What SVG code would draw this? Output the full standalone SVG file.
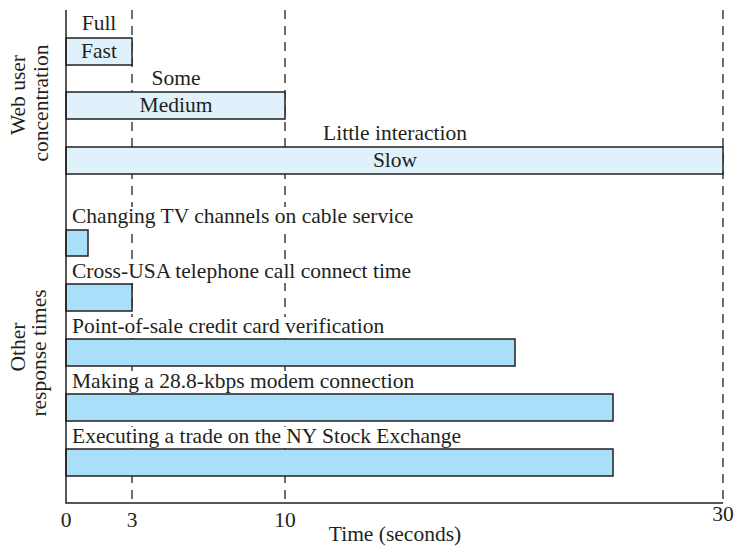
<svg xmlns="http://www.w3.org/2000/svg" width="735" height="546" viewBox="0 0 735 546">
  <style>
    text { font-family: "Liberation Serif", "Times New Roman", serif; font-size: 21.5px; fill: #231f20; }
    .mid { text-anchor: middle; }
    .axis { stroke: #231f20; stroke-width: 1.5; fill: none; }
    .grid { stroke: #231f20; stroke-width: 1.3; stroke-dasharray: 9 7; fill: none; }
    .web { fill: #dff2fb; stroke: #231f20; stroke-width: 1.5; }
    .other { fill: #a9dff8; stroke: #231f20; stroke-width: 1.5; }
    .knock { fill: #ffffff; }
  </style>

  <!-- dashed reference lines at 3, 10 and 30 seconds -->
  <g id="gridlines">
    <line class="grid" x1="132" y1="10" x2="132" y2="503"/>
    <line class="grid" x1="285" y1="10" x2="285" y2="503"/>
    <line class="grid" x1="723" y1="10" x2="723" y2="503"/>
  </g>

  <!-- web user concentration bars -->
  <g id="fast">
    <text class="mid" x="99" y="30">Full</text>
    <rect class="web" x="66" y="38" width="66" height="27"/>
    <text class="mid" x="99" y="58">Fast</text>
  </g>
  <g id="medium">
    <text class="mid" x="176" y="85">Some</text>
    <rect class="web" x="66" y="92" width="219" height="27"/>
    <text class="mid" x="176" y="112">Medium</text>
  </g>
  <g id="slow">
    <text class="mid" x="395" y="140">Little interaction</text>
    <rect class="web" x="66" y="147" width="657" height="27"/>
    <text class="mid" x="395" y="167">Slow</text>
  </g>

  <!-- other response times (labels sit on a white band over the grid) -->
  <g id="tv">
    <rect class="knock" x="68" y="207" width="350" height="21"/>
    <text x="72" y="223">Changing TV channels on cable service</text>
    <rect class="other" x="66" y="230" width="22" height="26"/>
  </g>
  <g id="phone">
    <rect class="knock" x="68" y="262" width="345" height="21"/>
    <text x="72" y="278">Cross-USA telephone call connect time</text>
    <rect class="other" x="66" y="284" width="66" height="27"/>
  </g>
  <g id="pos">
    <rect class="knock" x="68" y="317" width="324" height="21"/>
    <text x="72" y="333">Point-of-sale credit card verification</text>
    <rect class="other" x="66" y="339" width="449" height="27"/>
  </g>
  <g id="modem">
    <rect class="knock" x="68" y="372" width="322" height="21"/>
    <text x="72" y="388">Making a 28.8-kbps modem connection</text>
    <rect class="other" x="66" y="394" width="547" height="27"/>
  </g>
  <g id="nyse">
    <rect class="knock" x="68" y="427" width="370" height="21"/>
    <text x="72" y="443">Executing a trade on the NY Stock Exchange</text>
    <rect class="other" x="66" y="449" width="547" height="27"/>
  </g>

  <!-- axes -->
  <g id="axes">
    <polyline class="axis" points="66,10 66,503 723,503"/>
    <text class="mid" x="66" y="527">0</text>
    <text class="mid" x="132" y="527">3</text>
    <text class="mid" x="285" y="527">10</text>
    <text class="mid" x="723" y="521">30</text>
    <text class="mid" x="395" y="541">Time (seconds)</text>
  </g>

  <!-- group labels -->
  <g id="group-web">
    <text class="mid" transform="translate(25,95) rotate(-90)">Web user</text>
    <text class="mid" transform="translate(48,103) rotate(-90)">concentration</text>
  </g>
  <g id="group-other">
    <text class="mid" transform="translate(25,347) rotate(-90)">Other</text>
    <text class="mid" transform="translate(46,353) rotate(-90)">response times</text>
  </g>
</svg>
